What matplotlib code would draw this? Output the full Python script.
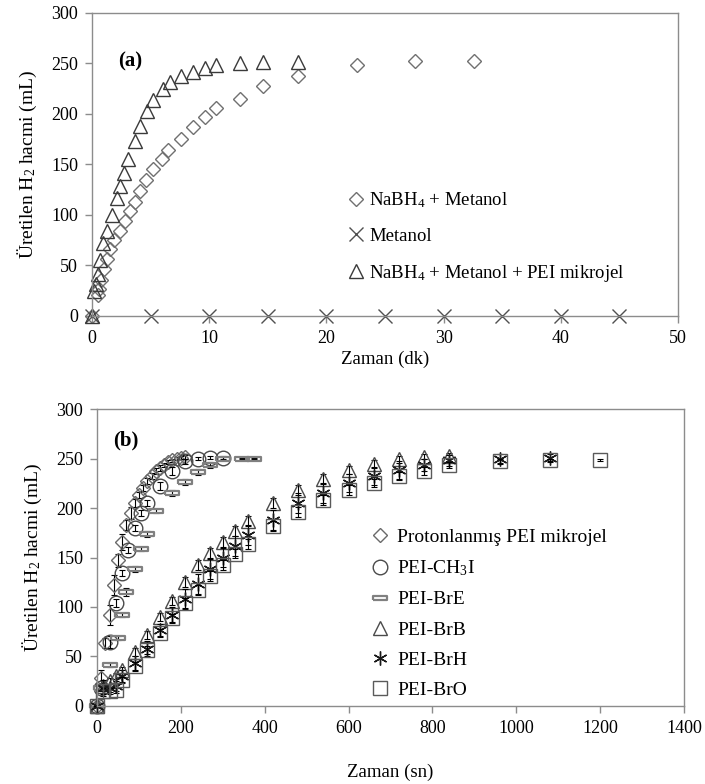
import matplotlib
matplotlib.use("Agg")
import matplotlib.pyplot as plt

plt.rcParams['font.family'] = ['Liberation Serif', 'DejaVu Serif']
plt.rcParams['mathtext.fontset'] = 'custom'
plt.rcParams['mathtext.rm'] = 'Liberation Serif'
plt.rcParams['mathtext.it'] = 'Liberation Serif:italic'

# ---- panel (a): Zaman (dk) ----
t_nabh4 = [0, 0.5, 0.6, 0.75, 1.0, 1.25, 1.5, 1.9, 2.4, 2.8, 3.2, 3.7, 4.1, 4.6, 5.2,
           6.0, 6.5, 7.6, 8.6, 9.6, 10.6, 12.6, 14.6, 17.6, 22.6, 27.6, 32.6]
v_nabh4 = [0, 21, 27, 36, 46, 56, 66, 75, 84, 94, 104, 113, 124, 135, 145,
           155, 164, 175, 187, 197, 206, 215, 228, 238, 248, 252, 252]

t_metanol = [0, 5, 10, 15, 20, 25, 30, 35, 40, 45]
v_metanol = [0, 0, 0, 0, 0, 0, 0, 0, 0, 0]

t_pei = [0, 0.2, 0.3, 0.5, 0.7, 0.96, 1.25, 1.7, 2.1, 2.4, 2.7, 3.1, 3.7, 4.1, 4.7,
         5.2, 6.1, 6.65, 7.6, 8.6, 9.6, 10.6, 12.6, 14.6, 17.6]
v_pei = [0, 25, 32, 42, 55, 72, 84, 100, 117, 129, 142, 155, 173, 188, 203,
         214, 225, 232, 238, 242, 245, 248, 250, 251, 251]

# ---- panel (b): Zaman (sn) ----
t_prot = [0, 10, 20, 30, 40, 50, 60, 70, 80, 90, 100, 110, 120, 130, 140, 150,
          160, 170, 180, 190, 200, 210]
v_prot = [0, 28, 64, 92, 122, 147, 166, 183, 195, 205, 213, 220, 227, 232, 237, 240,
          243, 246, 248, 250, 251, 252]
e_prot = [0, 8, 5, 10, 10, 7, 8, 5, 6, 4, 3, 3, 3, 3, 3, 3, 2, 2, 2, 2, 2, 2]

t_ch3i = [0, 10, 30, 45, 60, 75, 90, 105, 120, 150, 180, 210, 240, 270, 300]
v_ch3i = [0, 18, 65, 104, 134, 158, 180, 195, 205, 222, 237, 247, 250, 251, 251]
e_ch3i = [0, 3, 6, 4, 3, 3, 3, 3, 3, 4, 4, 3, 2, 2, 2]

t_bre = [0, 10, 30, 50, 60, 70, 90, 105, 120, 140, 180, 210, 240, 270, 300, 345, 375]
v_bre = [0, 18, 41, 69, 92, 115, 138, 159, 174, 197, 215, 226, 236, 243, 250, 250, 250]
e_bre = [0, 2, 2, 2, 2, 4, 3, 2, 3, 2, 3, 3, 3, 3, 2, 1, 1]

t_brb = [0, 15, 30, 45, 60, 90, 120, 150, 180, 210, 240, 270, 300, 330, 360,
         420, 480, 540, 600, 660, 720, 780, 840]
v_brb = [0, 20, 25, 30, 36, 55, 72, 90, 106, 125, 142, 155, 166, 177, 187,
         205, 218, 229, 238, 244, 249, 252, 253]
e_brb = [0, 3, 3, 3, 3, 4, 4, 4, 4, 5, 5, 5, 5, 5, 5, 5, 5, 5, 4, 4, 4, 3, 3]

t_brh = [0, 15, 30, 45, 60, 90, 120, 150, 180, 210, 240, 270, 300, 330, 360,
         420, 480, 540, 600, 660, 720, 780, 840, 960, 1080]
v_brh = [0, 18, 18, 20, 30, 43, 58, 77, 92, 108, 123, 138, 150, 162, 173,
         188, 205, 215, 225, 232, 238, 243, 248, 250, 251]
e_brh = [0, 8, 4, 5, 6, 8, 8, 6, 8, 10, 10, 10, 10, 10, 10, 10, 10, 10, 9, 9, 9, 6, 6, 5, 4]

t_bro = [0, 15, 30, 45, 60, 90, 120, 150, 180, 210, 240, 270, 300, 330, 360,
         420, 480, 540, 600, 660, 720, 780, 840, 960, 1080, 1200]
v_bro = [0, 15, 15, 16, 26, 40, 57, 74, 89, 104, 117, 131, 142, 154, 164,
         182, 196, 208, 218, 225, 232, 237, 243, 247, 248, 248]
e_bro = [0, 3, 3, 3, 3, 4, 4, 4, 4, 5, 5, 5, 5, 5, 5, 5, 5, 5, 5, 4, 4, 4, 3, 3, 2, 1]

AX_GREY = '#8c8c8c'

def style_axes(ax):
    for sp in ax.spines.values():
        sp.set_color(AX_GREY)
        sp.set_linewidth(1.0)
    ax.tick_params(axis='both', direction='out', length=5, width=1.0, color=AX_GREY,
                   labelsize=13, pad=5, labelcolor='black')

fig = plt.figure(figsize=(7.05, 7.84), dpi=100)

# panel (a)
ax1 = fig.add_axes([0.1305, 0.597, 0.8312, 0.3865])
ax1.plot(t_nabh4, v_nabh4, linestyle='none', marker='D', ms=7, mfc='none',
         mec='#707070', mew=1.0, clip_on=False, label='NaBH$_{\\rm 4}$ + Metanol')
ax1.plot(t_metanol, v_metanol, linestyle='none', marker='x', ms=10, mec='#505050',
         mew=1.0, clip_on=False, label='Metanol')
ax1.plot(t_pei, v_pei, linestyle='none', marker='^', ms=9.5, mfc='none',
         mec='#3a3a3a', mew=1.0, clip_on=False,
         label='NaBH$_{\\rm 4}$ + Metanol + PEI mikrojel')
ax1.set_xlim(0, 50)
ax1.set_ylim(0, 300)
ax1.set_xticks(range(0, 51, 10))
ax1.set_yticks(range(0, 301, 50))
style_axes(ax1)
ax1.set_xlabel('Zaman (dk)', fontsize=13.5, labelpad=3)
ax1.set_ylabel('Üretilen H$_{\\rm 2}$ hacmi (mL)', fontsize=14, labelpad=9)
ax1.text(0.045, 0.84, '(a)', transform=ax1.transAxes, fontsize=15, fontweight='bold',
         va='center', ha='left')
ax1.legend(loc='upper left', bbox_to_anchor=(0.425, 0.44), frameon=False, fontsize=13.5,
           handlelength=0.8, handletextpad=0.3, labelspacing=0.95, borderaxespad=0)

# panel (b)
ax2 = fig.add_axes([0.1376, 0.0995, 0.8326, 0.3788])
rect = [(-1, -0.3), (1, -0.3), (1, 0.3), (-1, 0.3), (-1, -0.3)]
series_b = [
    (t_prot, v_prot, e_prot, dict(marker='D', ms=7, mfc='none', mec='#6a6a6a', mew=1.0),
     'Protonlanmış PEI mikrojel'),
    (t_ch3i, v_ch3i, e_ch3i, dict(marker='o', ms=10.5, mfc='none', mec='#4a4a4a', mew=1.0),
     'PEI-CH$_{\\rm 3}$I'),
    (t_bre, v_bre, e_bre, dict(marker=rect, ms=10, mfc='none', mec='#808080', mew=1.6),
     'PEI-BrE'),
    (t_brb, v_brb, e_brb, dict(marker='^', ms=9.5, mfc='none', mec='#4a4a4a', mew=1.0),
     'PEI-BrB'),
    (t_brh, v_brh, e_brh, dict(marker=(6, 2, 0), ms=10, mec='#1a1a1a', mew=1.0),
     'PEI-BrH'),
    (t_bro, v_bro, e_bro, dict(marker='s', ms=9.5, mfc='none', mec='#5a5a5a', mew=1.0),
     'PEI-BrO'),
]
handles = []
for t, v, e, st, lab in series_b:
    ax2.errorbar(t, v, yerr=e, fmt='none', ecolor='black', elinewidth=0.8, capsize=2.5,
                 capthick=0.8, clip_on=False)
    h, = ax2.plot(t, v, linestyle='none', clip_on=False, label=lab, **st)
    handles.append(h)
ax2.set_xlim(0, 1400)
ax2.set_ylim(0, 300)
ax2.set_xticks(range(0, 1401, 200))
ax2.set_yticks(range(0, 301, 50))
style_axes(ax2)
ax2.set_xlabel('Zaman (sn)', fontsize=13.5, labelpad=19)
ax2.set_ylabel('Üretilen H$_{\\rm 2}$ hacmi (mL)', fontsize=14, labelpad=9)
ax2.text(0.027, 0.895, '(b)', transform=ax2.transAxes, fontsize=15, fontweight='bold',
         va='center', ha='left')
ax2.legend(handles=handles, loc='upper left', bbox_to_anchor=(0.455, 0.625), frameon=False,
           fontsize=14, handlelength=0.8, handletextpad=0.5, labelspacing=0.65,
           borderaxespad=0)

fig.savefig('out.png', dpi=100)
